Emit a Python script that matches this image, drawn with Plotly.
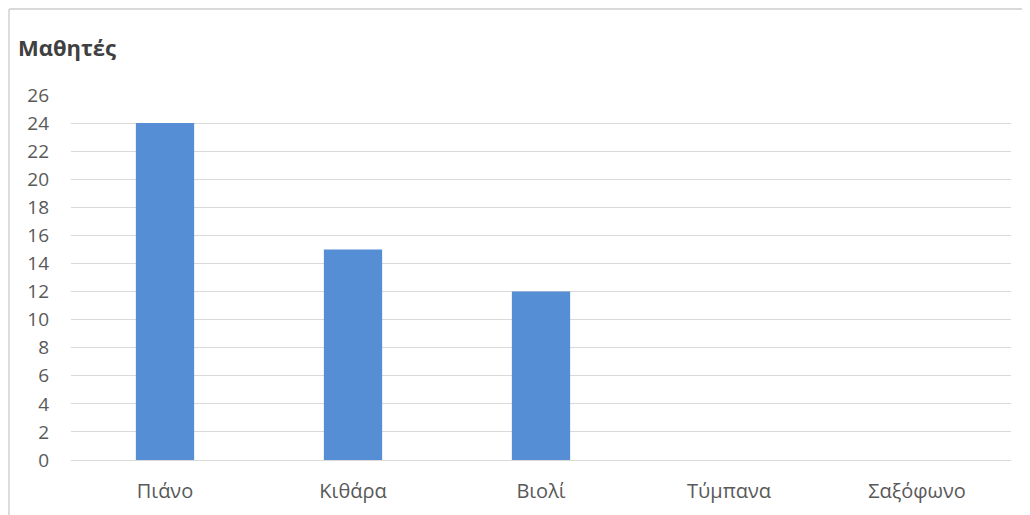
import plotly.graph_objects as go

categories = ["Πιάνο", "Κιθάρα", "Βιολί", "Τύμπανα", "Σαξόφωνο"]
values = [24, 15, 12, 0, 0]
y_ticks = list(range(0, 27, 2))
title_text = "Μαθητές"

fig = go.Figure(
    go.Bar(x=categories, y=values, marker=dict(color="#558ED5", line=dict(width=0)),
           hoverinfo="x+y")
)

font_family = "Open Sans"
border_x = (1.0 - 63) / 940
border_y = (460 - 9) / 365
fig.update_layout(
    width=1030, height=515,
    margin=dict(l=63, r=27, t=87, b=63),
    paper_bgcolor="white", plot_bgcolor="white",
    bargap=0.69,
    showlegend=False,
    font=dict(family=font_family, size=19, color="#595959"),
    title=dict(text="<b>" + title_text + "</b>", xref="container", yref="container",
               x=10 / 1030, y=1 - 40 / 515, xanchor="left", yanchor="middle",
               font=dict(family=font_family, size=22, color="#404040")),
    xaxis=dict(showgrid=False, showline=False, ticks="", ticklabelstandoff=17,
               tickfont=dict(size=20, color="#595959")),
    yaxis=dict(range=[0, 26], tickvals=y_ticks, showgrid=True, gridcolor="#d9d9d9",
               gridwidth=1.3, zeroline=True, zerolinecolor="#d9d9d9", zerolinewidth=1.3,
               showline=False, ticks="", ticklabelstandoff=21,
               tickfont=dict(size=19, color="#595959")),
    shapes=[
        dict(type="line", xref="paper", yref="paper", x0=border_x, x1=1.1,
             y0=border_y, y1=border_y, line=dict(color="#d9d9d9", width=1.8)),
        dict(type="line", xref="paper", yref="paper", x0=border_x, x1=border_x,
             y0=-0.5, y1=border_y, line=dict(color="#d9d9d9", width=1.8)),
    ],
)

fig.write_html("out.html")
